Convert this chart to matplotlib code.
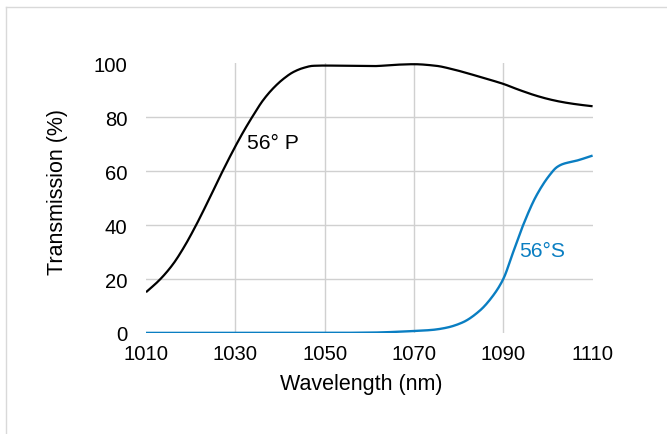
import matplotlib
matplotlib.use('Agg')
import matplotlib.pyplot as plt
from matplotlib.lines import Line2D
import numpy as np

# 56 deg P polarisation
wl_p = [1010, 1013, 1016, 1018.5, 1021, 1024, 1027, 1030, 1032, 1034,
        1036.2, 1038.5, 1040.8, 1043.0, 1045.2, 1047.4, 1050, 1055, 1060.9, 1066,
        1070, 1075, 1078.5, 1082.5, 1086, 1090, 1093.5, 1097.4, 1100.5, 1103.4,
        1106.5, 1110]
t_p = [15.1, 19.6, 25.4, 31.8, 39.3, 49.2, 59.5, 69.2, 75.2, 80.7,
       86.3, 90.8, 94.3, 96.8, 98.3, 99.1, 99.2, 99.1, 99.0, 99.5,
       99.7, 99.1, 97.9, 96.1, 94.4, 92.4, 90.2, 88.0, 86.6, 85.6,
       84.8, 84.1]

# 56 deg S polarisation
wl_s = [1010, 1030, 1050, 1060, 1070, 1074, 1077.2, 1080.9, 1084.7, 1087.7,
        1090, 1092.2, 1094.4, 1097.4, 1100.4, 1102, 1103.4, 1106.4, 1110]
t_s = [0.0, 0.0, 0.0, 0.1, 0.7, 1.1, 1.9, 3.9, 8.2, 13.8,
       20.0, 29.9, 39.8, 50.9, 58.6, 61.5, 62.7, 63.9, 65.8]

x_ticks = [1010, 1030, 1050, 1070, 1090, 1110]
y_ticks = [0, 20, 40, 60, 80, 100]

BLUE = '#0a7ec2'
GRID = '#d0d0d0'

plt.rcParams['font.family'] = ['Liberation Sans', 'DejaVu Sans']


def pchip(x, y, n=500):
    # monotone cubic through the read points (no scipy needed)
    x = np.asarray(x, float)
    y = np.asarray(y, float)
    h = np.diff(x)
    d = np.diff(y) / h
    m = np.zeros_like(y)
    for k in range(1, len(x) - 1):
        if d[k - 1] * d[k] > 0:
            w1 = 2 * h[k] + h[k - 1]
            w2 = h[k] + 2 * h[k - 1]
            m[k] = (w1 + w2) / (w1 / d[k - 1] + w2 / d[k])
    m[0] = d[0]
    m[-1] = d[-1]
    xs = np.linspace(x[0], x[-1], n)
    i = np.clip(np.searchsorted(x, xs) - 1, 0, len(x) - 2)
    t = (xs - x[i]) / h[i]
    h00 = 2 * t ** 3 - 3 * t ** 2 + 1
    h10 = t ** 3 - 2 * t ** 2 + t
    h01 = -2 * t ** 3 + 3 * t ** 2
    h11 = t ** 3 - t ** 2
    ys = h00 * y[i] + h10 * h[i] * m[i] + h01 * y[i + 1] + h11 * h[i] * m[i + 1]
    return xs, ys


fig = plt.figure(figsize=(6.67, 4.35), dpi=100)
ax = fig.add_axes([146 / 667, 101.1 / 435, 446.6 / 667, 269.5 / 435])

ax.plot(*pchip(wl_p, t_p), color='black', lw=1.6, solid_capstyle='butt', zorder=3)
ax.plot(*pchip(wl_s, t_s), color=BLUE, lw=1.7, solid_capstyle='butt', zorder=3)

ax.set_xlim(1010, 1110)
ax.set_ylim(0, 100)
ax.set_xticks(x_ticks)
ax.set_yticks(y_ticks)

for v in x_ticks[1:-1]:
    ax.axvline(v, color=GRID, lw=1, zorder=1)
for v in y_ticks[1:-1]:
    ax.axhline(v, color=GRID, lw=1, zorder=1)

for s in ax.spines.values():
    s.set_visible(False)
ax.tick_params(length=0, labelsize=14.6)
ax.tick_params(axis='y', pad=13.5)
ax.tick_params(axis='x', pad=8)

ax.text(1032.6, 70.8, '56° P', fontsize=15.2, ha='left', va='center')
ax.text(1093.5, 30.4, '56°S', fontsize=15.2, ha='left', va='center', color=BLUE)

fig.text(361 / 667, 1 - 385 / 435, 'Wavelength (nm)', fontsize=15.5, ha='center', va='center')
fig.text(57.5 / 667, 1 - 192 / 435, 'Transmission (%)', fontsize=15.5, ha='center', va='center',
         rotation=90)

# light frame around the chart area
fig.add_artist(Line2D([6 / 667, 6 / 667], [0, 1 - 8 / 435], transform=fig.transFigure,
                      color='#d9d9d9', lw=1))
fig.add_artist(Line2D([6 / 667, 1], [1 - 8 / 435, 1 - 8 / 435], transform=fig.transFigure,
                      color='#d9d9d9', lw=1))

fig.savefig('out.png', dpi=100)
